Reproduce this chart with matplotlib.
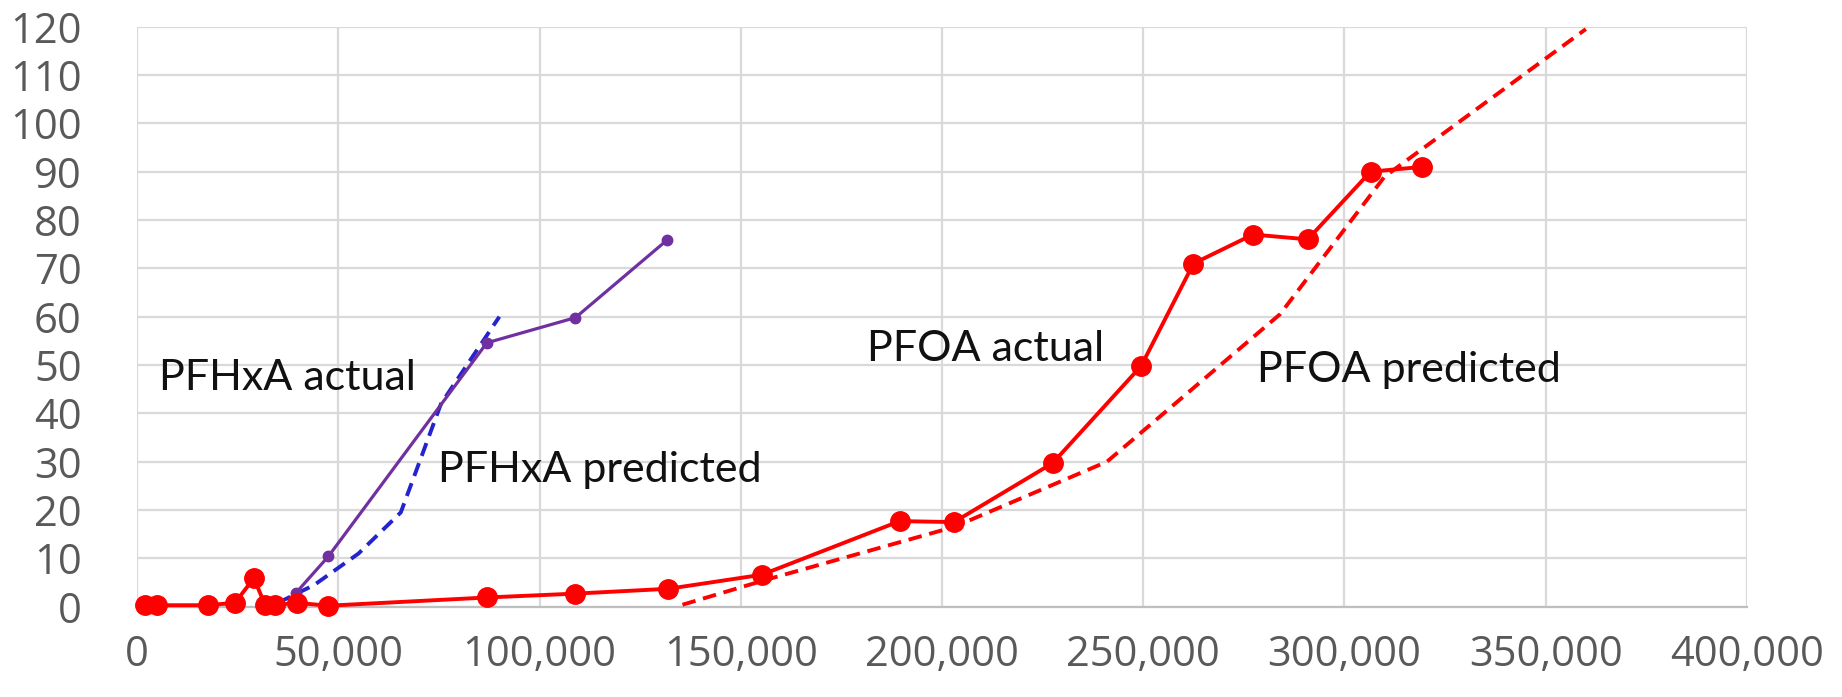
import matplotlib
matplotlib.use("Agg")
import matplotlib.pyplot as plt
from matplotlib.ticker import FuncFormatter

# PFOA measured breakthrough
pfoa_x = [2000, 5000, 17500, 24300, 29000, 31800, 34200, 39600, 47500,
          86900, 108900, 132000, 155200, 189500, 203000, 227500, 249500,
          262500, 277300, 290900, 306500, 319400]
pfoa_y = [0.3, 0.3, 0.3, 0.8, 5.9, 0.3, 0.3, 0.8, 0.2,
          1.9, 2.7, 3.7, 6.6, 17.7, 17.5, 29.7, 49.8,
          71, 77, 76, 90, 91]

# PFOA model prediction
pfoa_pred_x = [135500, 156000, 203000, 241000, 284000, 310000, 360000]
pfoa_pred_y = [0.4, 5.5, 16.5, 30, 60.5, 89, 119.5]

# PFHxA measured breakthrough
pfhxa_x = [39500, 47500, 86900, 108900, 131600]
pfhxa_y = [2.9, 10.4, 54.6, 59.8, 75.8]

# PFHxA model prediction
pfhxa_pred_x = [35000, 44000, 55000, 65500, 75500, 90000]
pfhxa_pred_y = [0.8, 4.5, 11, 19.5, 42, 60]

x_ticks = list(range(0, 400001, 50000))
y_ticks = list(range(0, 121, 10))

RED = "#FF0000"
PURPLE = "#7030A0"
BLUE = "#2323CF"

fig = plt.figure(figsize=(18.42, 6.97), dpi=100)
ax = fig.add_axes([0.0745, 0.1296, 0.8738, 0.8321])

ax.plot(pfoa_pred_x, pfoa_pred_y, color=RED, lw=2.8, ls=(0, (3.5, 2.0)),
        zorder=3)
ax.plot(pfhxa_pred_x, pfhxa_pred_y, color=BLUE, lw=2.8, ls=(0, (3.5, 2.0)),
        zorder=3)
ax.plot(pfhxa_x, pfhxa_y, color=PURPLE, lw=2.3, marker="o", markersize=7.5,
        zorder=4)
ax.plot(pfoa_x, pfoa_y, color=RED, lw=2.8, marker="o", markersize=14,
        zorder=5, clip_on=False)

ax.set_xlim(0, 400000)
ax.set_ylim(0, 120)
ax.set_xticks(x_ticks)
ax.set_yticks(y_ticks)
ax.xaxis.set_major_formatter(FuncFormatter(lambda v, p: f"{int(v):,}"))
ax.grid(True, color="#D9D9D9", lw=1.6, zorder=0)
ax.set_axisbelow(True)

for side in ("left", "right", "top"):
    ax.spines[side].set_visible(False)
ax.spines["bottom"].set_color("#BFBFBF")
ax.spines["bottom"].set_linewidth(1.6)

ax.tick_params(axis="both", length=0, colors="#595959")
ax.tick_params(axis="y", pad=40)
ax.tick_params(axis="x", pad=20)
for lab in ax.get_yticklabels():
    lab.set_fontfamily("Open Sans")
    lab.set_fontsize(30)
for lab in ax.get_xticklabels():
    lab.set_fontfamily("Open Sans")
    lab.set_fontsize(30)

label_kw = dict(fontsize=31, family="Lato", color="#111111", va="center",
                ha="left", zorder=6)
ax.text(5300, 47.3, "PFHxA actual", **label_kw)
ax.text(74700, 28.3, "PFHxA predicted", **label_kw)
ax.text(181400, 53.3, "PFOA actual", **label_kw)
ax.text(278200, 49.0, "PFOA predicted", **label_kw)

fig.savefig("out.png", dpi=100)
